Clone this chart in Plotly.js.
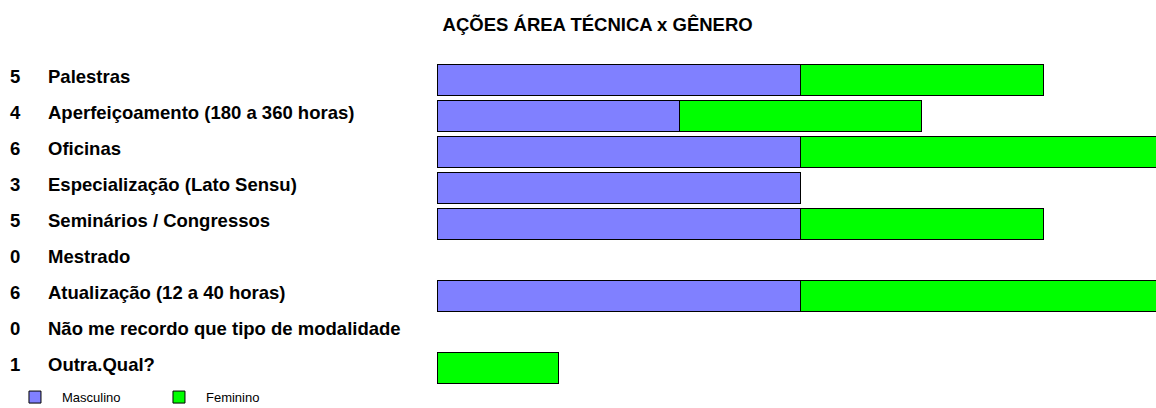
<!DOCTYPE html>
<html>
<head>
<meta charset="utf-8">
<script src="https://cdn.plot.ly/plotly-3.0.1.min.js"></script>
<style>html,body{margin:0;padding:0;background:#fff;}#chart{width:1156px;height:408px;}</style>
</head>
<body>
<div id="chart"></div>
<script>
var categories = [
  "Palestras",
  "Aperfeiçoamento (180 a 360 horas)",
  "Oficinas",
  "Especialização (Lato Sensu)",
  "Seminários / Congressos",
  "Mestrado",
  "Atualização (12 a 40 horas)",
  "Não me recordo que tipo de modalidade",
  "Outra.Qual?"
];
var masculino = [3, 2, 3, 3, 3, 0, 3, 0, 0];
var feminino  = [2, 2, 3, 0, 2, 0, 3, 0, 1];
var totals = categories.map(function (c, i) { return masculino[i] + feminino[i]; });

var FONT = "Liberation Sans, Arial, sans-serif";
function outline(vals) { return vals.map(function (v) { return v > 0 ? 1 : 0; }); }

var traces = [
  {
    type: "bar", orientation: "h", name: "Masculino",
    y: categories, x: masculino,
    marker: { color: "#8080FF", line: { color: "#000000", width: outline(masculino) } },
    hoverinfo: "none"
  },
  {
    type: "bar", orientation: "h", name: "Feminino",
    y: categories, x: feminino,
    marker: { color: "#00FF00", line: { color: "#000000", width: outline(feminino) } },
    hoverinfo: "none"
  }
];

var annotations = [];
categories.forEach(function (c, i) {
  annotations.push({
    xref: "paper", yref: "y", x: -0.5967, y: c, text: String(totals[i]),
    showarrow: false, xanchor: "left", yanchor: "middle", yshift: 4,
    font: { family: FONT, size: 18.5, color: "#000", weight: "bold" }
  });
  annotations.push({
    xref: "paper", yref: "y", x: -0.5438, y: c, text: c,
    showarrow: false, xanchor: "left", yanchor: "middle", yshift: 4,
    font: { family: FONT, size: 18.5, color: "#000", weight: "bold" }
  });
});

var layout = {
  width: 1156, height: 408,
  margin: { l: 437, r: 0, t: 62, b: 22, autoexpand: false },
  paper_bgcolor: "#fff", plot_bgcolor: "#fff",
  barmode: "stack",
  bargap: 0.125,
  title: {
    text: "AÇÕES ÁREA TÉCNICA x GÊNERO",
    xref: "container", x: 0.517, xanchor: "center",
    yref: "container", y: 0.939, yanchor: "middle",
    font: { family: FONT, size: 18.5, color: "#000", weight: "bold" }
  },
  xaxis: { range: [0, 5.93], visible: false, fixedrange: true },
  yaxis: { autorange: "reversed", showticklabels: false, showgrid: false, zeroline: false, showline: false, ticks: "", fixedrange: true },
  showlegend: true,
  legend: {
    orientation: "h", x: -0.5967, xanchor: "left", y: 0.012, yanchor: "top",
    font: { family: FONT, size: 13, color: "#000" },
    itemwidth: 44,
    entrywidth: 85, entrywidthmode: "pixels",
    bgcolor: "rgba(0,0,0,0)", borderwidth: 0, traceorder: "normal",
    tracegroupgap: 0, itemclick: false
  },
  annotations: annotations
};

Plotly.newPlot("chart", traces, layout, { displayModeBar: false, staticPlot: true });
</script>
</body>
</html>
